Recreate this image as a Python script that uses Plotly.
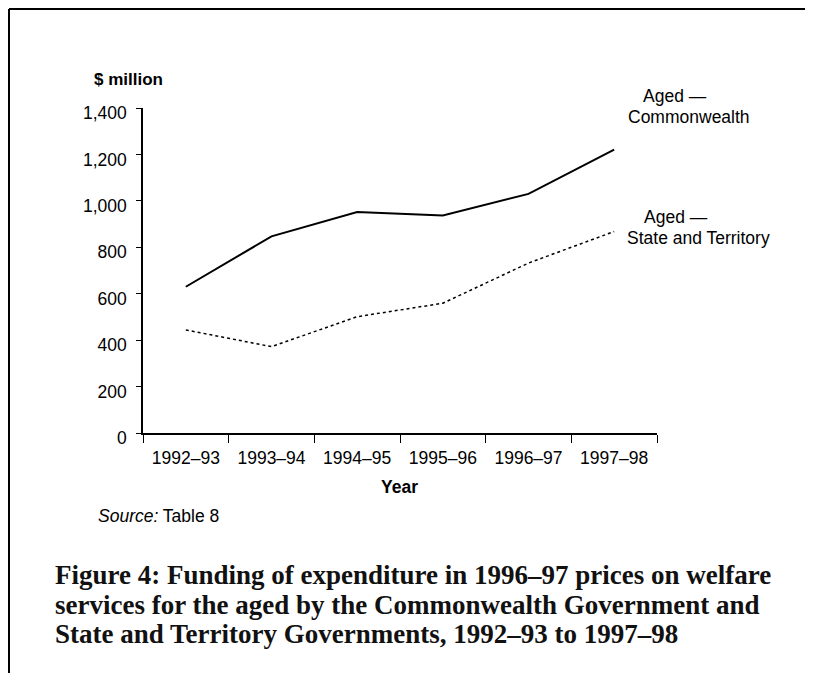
import plotly.graph_objects as go

years = ["1992–93", "1993–94", "1994–95", "1995–96", "1996–97", "1997–98"]
commonwealth = [630, 847, 952, 937, 1030, 1221]
state_territory = [444, 372, 501, 559, 732, 868]
y_ticks = [0, 200, 400, 600, 800, 1000, 1200, 1400]

OFF = 8  # page body margin
W, H = 813 - OFF, 673 - OFF
L, R, T, B = 143 - OFF, 657 - OFF, 108 - OFF, 433 - OFF


def px(x):
    return (x - OFF - L) / (R - L)


def py(y):
    return (B - (y - OFF)) / (B - T)


fig = go.Figure()
fig.add_trace(go.Scatter(x=years, y=commonwealth, mode="lines",
                         line=dict(color="black", width=2), showlegend=False))
fig.add_trace(go.Scatter(x=years, y=state_territory, mode="lines",
                         line=dict(color="black", width=1.5, dash="dot"), showlegend=False))

font = dict(family="Liberation Sans, Arial, sans-serif", size=17.5, color="black")

fig.update_layout(
    width=W, height=H,
    margin=dict(l=L, r=W - R, t=T, b=H - B, pad=0),
    paper_bgcolor="white", plot_bgcolor="white",
    font=font,
    xaxis=dict(type="category", range=[-0.5, 5.5], tickson="boundaries",
               ticks="outside", ticklen=8, tickwidth=1, tickcolor="black",
               ticklabelstandoff=8,
               showline=True, linecolor="black", linewidth=1.5,
               showgrid=False, zeroline=False, tickfont=font, fixedrange=True),
    yaxis=dict(range=[0, 1400], tickvals=y_ticks, tickformat=",",
               ticks="outside", ticklen=5, tickwidth=1, tickcolor="black",
               ticklabelstandoff=6, ticklabelshift=5,
               showline=True, linecolor="black", linewidth=1.5,
               showgrid=False, zeroline=False, tickfont=font, fixedrange=True),
)

ann = []
ann.append(dict(text="<b>$ million</b>", x=px(92), y=py(79), xanchor="left", yanchor="middle",
                font=dict(family="Liberation Sans, Arial, sans-serif", size=17, color="black")))
ann.append(dict(text="<b>Year</b>", x=px(399), y=py(487), xanchor="center", yanchor="middle"))
ann.append(dict(text="<i>Source:</i> Table 8", x=px(96), y=py(516), xanchor="left", yanchor="middle"))
ann.append(dict(text="Aged —", x=px(641), y=py(96), xanchor="left", yanchor="middle"))
ann.append(dict(text="Commonwealth", x=px(626), y=py(117), xanchor="left", yanchor="middle"))
ann.append(dict(text="Aged —", x=px(642), y=py(217), xanchor="left", yanchor="middle"))
ann.append(dict(text="State and Territory", x=px(625), y=py(238), xanchor="left", yanchor="middle"))
caption_lines = [
    "Figure 4: Funding of expenditure in 1996–97 prices on welfare",
    "services for the aged by the Commonwealth Government and",
    "State and Territory Governments, 1992–93 to 1997–98",
]
for line, yy in zip(caption_lines, [575, 604.5, 634]):
    ann.append(dict(text="<b>" + line + "</b>", x=px(53), y=py(yy), xanchor="left", yanchor="middle",
                    font=dict(family="Liberation Serif, Times New Roman, serif", size=27, color="#111")))
for a in ann:
    a.setdefault("font", font)
    a.update(xref="paper", yref="paper", showarrow=False)
fig.update_layout(annotations=ann)

fig.add_shape(type="line", xref="paper", yref="paper",
              x0=px(9), x1=px(813), y0=py(9), y1=py(9), line=dict(color="black", width=2))
fig.add_shape(type="line", xref="paper", yref="paper",
              x0=px(9), x1=px(9), y0=py(9), y1=py(680), line=dict(color="black", width=2))

fig.write_html("out.html")
